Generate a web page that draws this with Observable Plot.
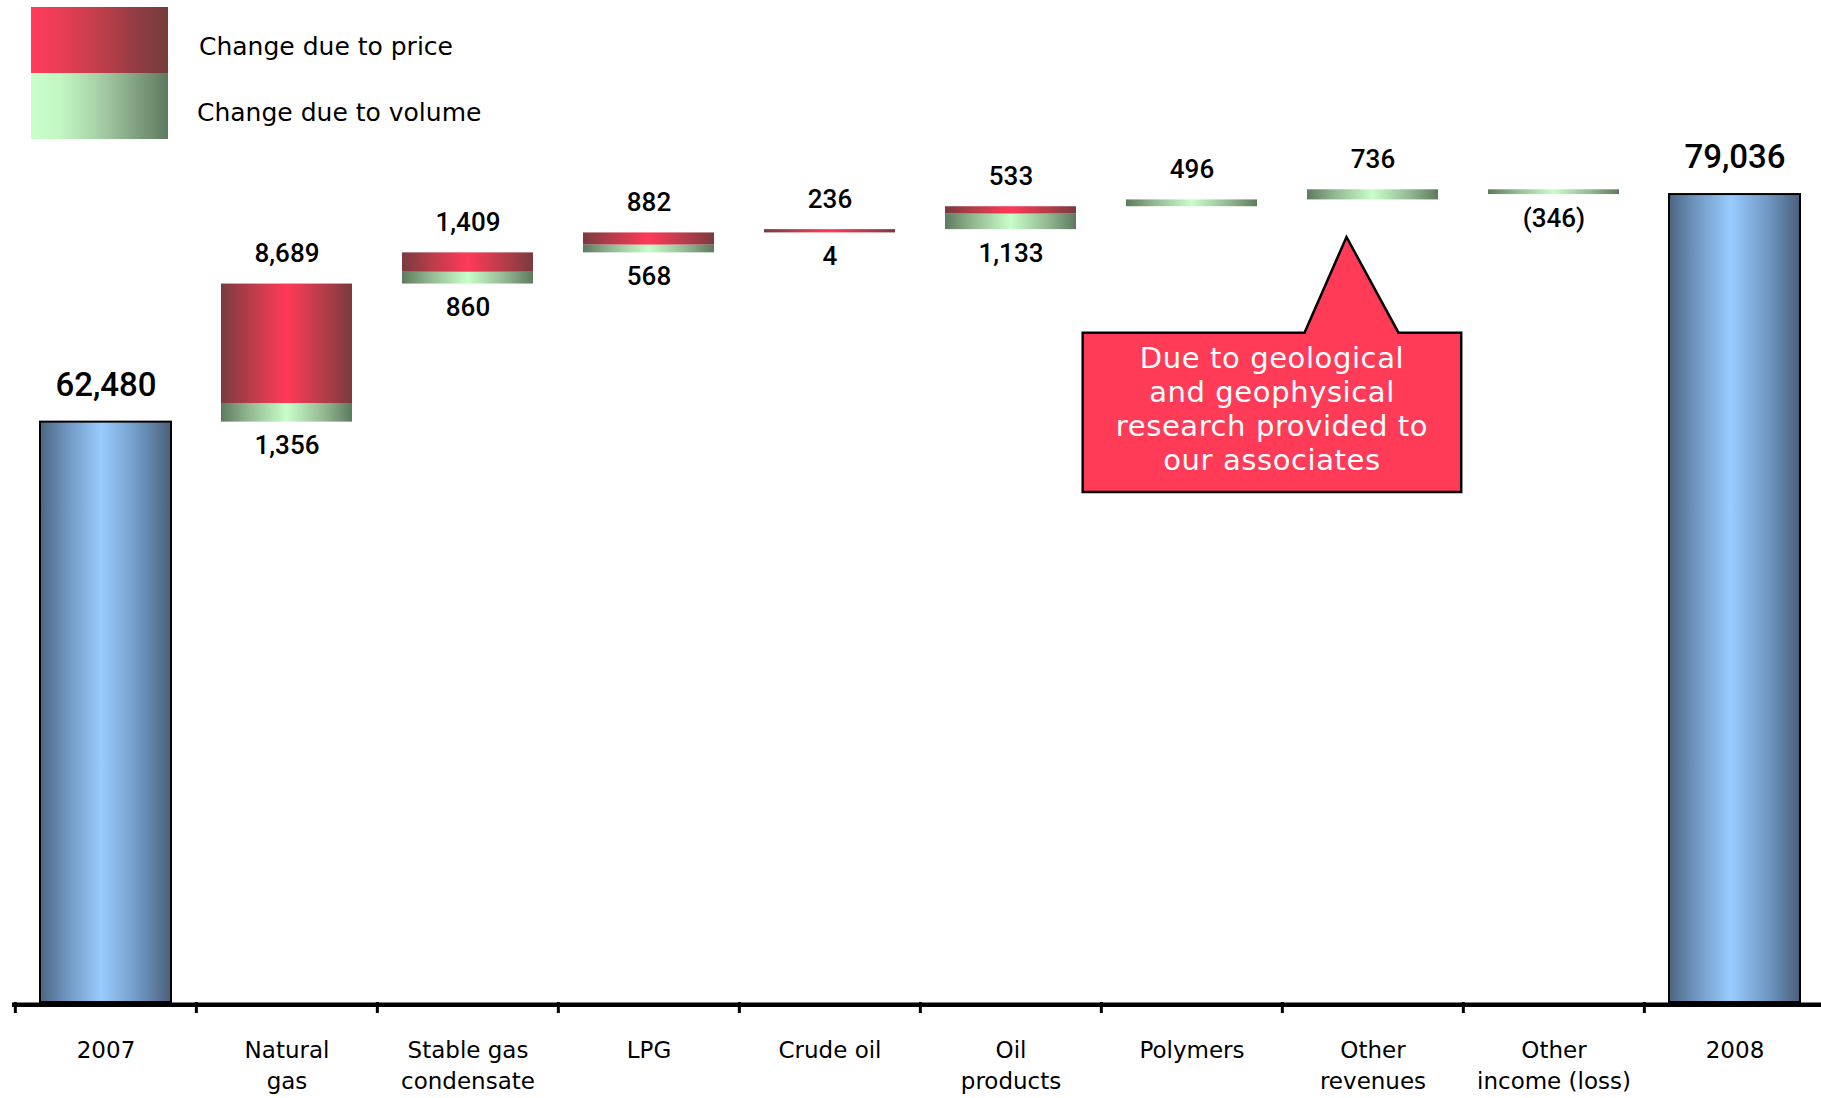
<!DOCTYPE html>
<html>
<head>
<meta charset="utf-8">
<script src="https://cdn.jsdelivr.net/npm/d3@7"></script>
<script src="https://cdn.jsdelivr.net/npm/@observablehq/plot@0.6"></script>
<style>
  html, body { margin: 0; padding: 0; background: #fff; overflow: hidden; }
  #legend { position: relative; width: 1821px; height: 140px; font-family: "DejaVu Sans", sans-serif; font-size: 25px; color: #000; }
  .sw { position: absolute; left: 31px; width: 137px; height: 66px; }
  .lt { position: absolute; line-height: 30px; white-space: nowrap; }
  #chart svg { display: block; max-width: none; }
</style>
</head>
<body>
<div id="legend">
  <div class="sw" style="top:7px;background:linear-gradient(to right,#ff3a5a 0%,#ec3d55 20%,#c03e4b 50%,#903c43 78%,#743c3c 100%)"></div>
  <div class="lt" style="left:199px;top:32px">Change due to price</div>
  <div class="sw" style="top:73px;background:linear-gradient(to right,#c8ffc8 0%,#c2f6c3 22%,#a6cfa6 50%,#7f9f7f 78%,#5f7a5f 100%)"></div>
  <div class="lt" style="left:197px;top:98px">Change due to volume</div>
</div>
<div id="chart"></div>
<script>
// ---- data ----
const categories = ["2007", "Natural gas", "Stable gas condensate", "LPG", "Crude oil", "Oil products", "Polymers", "Other revenues", "Other income (loss)", "2008"];
const tickLabels = ["2007", "Natural\ngas", "Stable gas\ncondensate", "LPG", "Crude oil", "Oil\nproducts", "Polymers", "Other\nrevenues", "Other\nincome (loss)", "2008"];
const startValue = 62480;
const endValue = 79036;
const priceChange = [8689, 1409, 882, 236, 533, 0, 0, 0];
const volumeChange = [1356, 860, 568, 4, 1133, 496, 736, -346];
const calloutCategory = "Other revenues";
const calloutLines = ["Due to geological", "and geophysical", "research provided to", "our associates"];
const yMin = 20260; // value at the axis line

// ---- derived waterfall ----
const fmt = v => v < 0 ? `(${d3.format(",")(-v)})` : d3.format(",")(v);
const changeCategories = categories.slice(1, -1);
const totals = [
  {cat: categories[0], value: startValue},
  {cat: categories[categories.length - 1], value: endValue}
];
const priceBars = [], volumeBars = [], labelsAbove = [], labelsBelow = [];
let running = startValue;
changeCategories.forEach((cat, i) => {
  const v = volumeChange[i], p = priceChange[i];
  const vEnd = running + v;
  volumeBars.push({cat, y1: running, y2: vEnd});
  const pEnd = vEnd + p;
  if (p) {
    priceBars.push({cat, y1: vEnd, y2: pEnd});
    labelsAbove.push({cat, y: Math.max(vEnd, pEnd), text: fmt(p)});
  }
  const low = Math.min(running, vEnd), high = Math.max(running, vEnd);
  if (p || v < 0) labelsBelow.push({cat, y: low, text: fmt(v)});
  else labelsAbove.push({cat, y: high, text: fmt(v)});
  running = pEnd;
});
const yMax = d3.max([...volumeBars, ...priceBars], d => Math.max(d.y1, d.y2));

// ---- layout ----
const W = 1821, H = 958;
const xRange = [13.4, 1826.6];
const step = (xRange[1] - xRange[0]) / categories.length;
const inset = 25;
const labelFont = "Roboto, 'Liberation Sans', sans-serif";

const chart = Plot.plot({
  width: W,
  height: H,
  marginTop: 49.3,
  marginBottom: 96,
  marginLeft: 12,
  marginRight: 0,
  style: {background: "#fff", overflow: "visible"},
  x: {domain: categories, range: xRange, padding: 0, label: null},
  y: {domain: [yMin, yMax], axis: null},
  marks: [
    Plot.rectY(totals, {x: "cat", y1: yMin, y2: "value", fill: "url(#gradTotal)", stroke: "#000", strokeWidth: 2, insetLeft: inset, insetRight: inset}),
    Plot.rectY(volumeBars, {x: "cat", y1: "y1", y2: "y2", fill: "url(#gradVolume)", insetLeft: inset, insetRight: inset}),
    Plot.rectY(priceBars, {x: "cat", y1: "y1", y2: "y2", fill: "url(#gradPrice)", insetLeft: inset, insetRight: inset}),
    Plot.ruleY([yMin], {stroke: "#000", strokeWidth: 4.5, dy: 2.3}),
    Plot.axisX({anchor: "bottom", tickSize: 11, strokeWidth: 3, stroke: "#000", tickFormat: () => "", dx: -step / 2, label: null}),
    Plot.text(categories, {x: d => d, text: (d, i) => tickLabels[i], frameAnchor: "bottom", lineAnchor: "top", dy: 33.5, fontSize: 23, fontFamily: "'DejaVu Sans', sans-serif", lineHeight: 1.36, fill: "#000"}),
    Plot.text(labelsAbove, {x: "cat", y: "y", text: "text", dy: -30, fontSize: 26, fontFamily: labelFont, fontWeight: 500, fill: "#000"}),
    Plot.text(labelsBelow, {x: "cat", y: "y", text: "text", dy: 24, fontSize: 26, fontFamily: labelFont, fontWeight: 500, fill: "#000"}),
    Plot.text(totals, {x: "cat", y: "value", text: d => fmt(d.value), dy: -37, fontSize: 33, fontFamily: labelFont, fontWeight: 500, fill: "#000"})
  ]
});

// gradients
const svg = d3.select(chart);
const defs = svg.insert("defs", ":first-child");
function grad(id, stops) {
  const g = defs.append("linearGradient").attr("id", id).attr("x1", 0).attr("x2", 1).attr("y1", 0).attr("y2", 0);
  stops.forEach(([o, c]) => g.append("stop").attr("offset", o).attr("stop-color", c));
}
grad("gradPrice", [[0, "#793b3e"], [0.22, "#b53d4a"], [0.5, "#ff3a58"], [0.78, "#b53d4a"], [1, "#793b3e"]]);
grad("gradVolume", [[0, "#5e7a5e"], [0.22, "#94b994"], [0.5, "#c8fec9"], [0.78, "#94b994"], [1, "#5e7a5e"]]);
grad("gradTotal", [[0, "#4b6582"], [0.2, "#6f95bf"], [0.47, "#99ccff"], [0.75, "#7098c4"], [1, "#4a607a"]]);

// callout annotation anchored to the "Other revenues" bar
const xs = chart.scale("x"), ys = chart.scale("y");
const anchorBar = volumeBars.find(d => d.cat === calloutCategory);
const ax = xs.apply(calloutCategory) + xs.bandwidth / 2;
const ay = ys.apply(Math.min(anchorBar.y1, anchorBar.y2));
const g = svg.append("g").attr("transform", `translate(${ax},${ay})`);
g.append("path")
  .attr("d", "M-26,37.6 L26,133.3 L88.7,133.3 L88.7,292.6 L-289.8,292.6 L-289.8,133.3 L-68,133.3 Z")
  .attr("fill", "#ff3b58")
  .attr("stroke", "#000")
  .attr("stroke-width", 2.5)
  .attr("stroke-linejoin", "miter");
g.append("text")
  .attr("text-anchor", "middle")
  .attr("font-family", "'DejaVu Sans', sans-serif")
  .attr("font-size", 29)
  .attr("letter-spacing", 0.6)
  .attr("fill", "#fff")
  .selectAll("tspan").data(calloutLines).join("tspan")
  .attr("x", -100.5)
  .attr("y", (d, i) => 169 + i * 33.8)
  .text(d => d);

document.getElementById("chart").appendChild(chart);
</script>
</body>
</html>
